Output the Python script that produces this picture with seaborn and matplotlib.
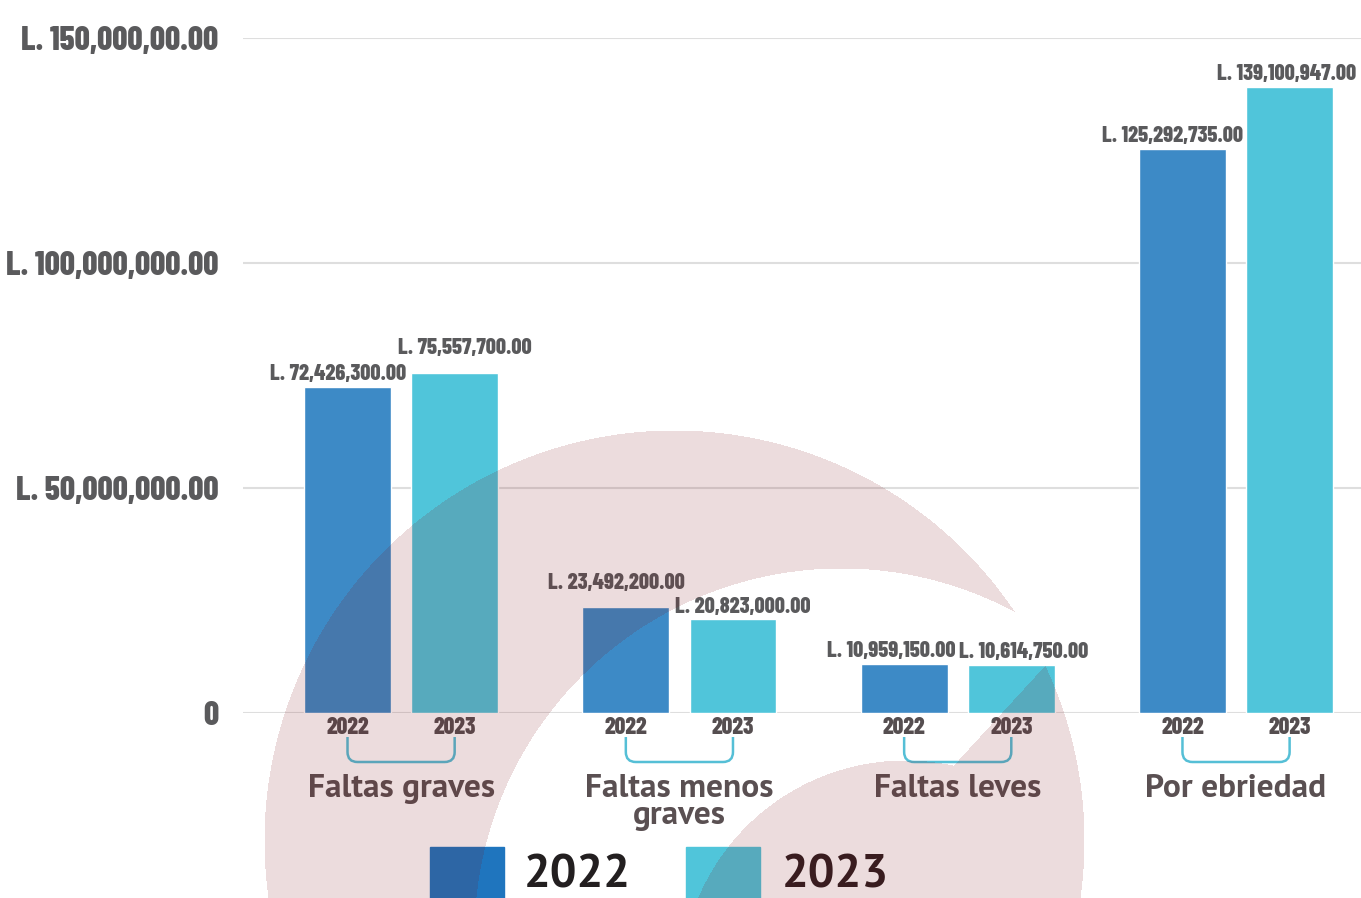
import numpy as np
import pandas as pd
import seaborn as sns
import matplotlib.pyplot as plt
from matplotlib import transforms
from matplotlib.path import Path
from matplotlib.patches import PathPatch, Rectangle

# datos
categorias = ['Faltas graves', 'Faltas menos\ngraves', 'Faltas leves', 'Por ebriedad']
anios = ['2022', '2023']
montos_2022 = [72426300, 23492200, 10959150, 125292735]
montos_2023 = [75557700, 20823000, 10614750, 139100947]
y_ticks = [0, 50000000, 100000000, 150000000]
y_tick_labels = ['0', 'L. 50,000,000.00', 'L. 100,000,000.00', 'L. 150,000,00.00']

COLOR_2022 = '#3D8AC6'
COLOR_2023 = '#50C5DA'
GRIS = '#5A5A5C'

W, H = 1361, 898

ANGOSTA = ['Barlow Condensed', 'Liberation Sans Narrow', 'DejaVu Sans']
NORMAL = ['PT Sans', 'Noto Sans', 'DejaVu Sans']

sns.set_style('white')

df = pd.DataFrame({
    'categoria': categorias * 2,
    'anio': [anios[0]] * 4 + [anios[1]] * 4,
    'monto': montos_2022 + montos_2023,
})

fig = plt.figure(figsize=(W / 100, H / 100), dpi=100)
ax = fig.add_axes([243 / W, 1 - 713 / H, 1 - 243 / W, (713 - 38) / H])

sns.barplot(data=df, x='categoria', y='monto', hue='anio',
            palette=[COLOR_2022, COLOR_2023], width=0.77, gap=0.19,
            saturation=1, legend=False, ax=ax, zorder=2)

ax.set_xlim(-0.568, 3.449)
ax.set_ylim(0, 150000000)
ax.set_xlabel('')
ax.set_ylabel('')
for s in ax.spines.values():
    s.set_visible(False)
ax.grid(axis='y', color='#DEDEDE', linewidth=1.5)
ax.set_axisbelow(True)

ax.set_yticks(y_ticks)
ax.set_yticklabels(y_tick_labels, fontfamily=ANGOSTA, fontweight='heavy',
                   fontsize=24, color=GRIS)
ax.tick_params(axis='y', length=0, pad=18)

# años bajo cada barra
centros, etiquetas = [], []
for anio, cont in zip(anios, ax.containers):
    for barra in cont:
        centros.append(barra.get_x() + barra.get_width() / 2)
        etiquetas.append(anio)
ax.set_xticks(centros)
ax.set_xticklabels(etiquetas, fontfamily=ANGOSTA, fontweight='heavy',
                   fontsize=17, color='#554E50')
ax.tick_params(axis='x', length=0, pad=3)

# etiquetas de valor
desplaz_x = {0: -7, 1: 7}
ajuste_x = {(3, 1): -2, (2, 0): -9, (2, 1): 9}
extra_y = {(1, 0): 8, (0, 1): 9}
for i, (cont, valores) in enumerate(zip(ax.containers, [montos_2022, montos_2023])):
    for j, (barra, v) in enumerate(zip(cont, valores)):
        cx = barra.get_x() + barra.get_width() / 2
        ax.annotate(f'L. {v:,.2f}', xy=(cx, v),
                    xytext=(ajuste_x.get((j, i), desplaz_x[i]), 2 + extra_y.get((j, i), 0)),
                    textcoords='offset points', ha='center', va='bottom',
                    fontfamily=ANGOSTA, fontweight='heavy', fontsize=16,
                    color=GRIS, annotation_clip=False)

# nombres de categoria y corchetes
mezcla = transforms.blended_transform_factory(ax.transData, fig.transFigure)
for k, cat in enumerate(categorias):
    ax.text(k, 1 - 774 / H, cat, transform=mezcla, ha='center', va='top',
            fontfamily=NORMAL, fontweight='bold', fontsize=24,
            color='#5A5052', linespacing=0.85, clip_on=False)

fig.canvas.draw()
r = 10
y_sup, y_inf = H - 737, H - 762
for k in range(len(categorias)):
    b0, b1 = ax.containers[0][k], ax.containers[1][k]
    x0 = ax.transData.transform((b0.get_x() + b0.get_width() / 2, 0))[0]
    x1 = ax.transData.transform((b1.get_x() + b1.get_width() / 2, 0))[0]
    verts = [(x0, y_sup), (x0, y_inf + r), (x0, y_inf), (x0 + r, y_inf),
             (x1 - r, y_inf), (x1, y_inf), (x1, y_inf + r), (x1, y_sup)]
    codes = [Path.MOVETO, Path.LINETO, Path.CURVE3, Path.CURVE3,
             Path.LINETO, Path.CURVE3, Path.CURVE3, Path.LINETO]
    fig.add_artist(PathPatch(Path(verts, codes), transform=None, fill=False,
                             edgecolor='#55BFD6', linewidth=1.8, zorder=0.5))

# leyenda
for x_cuadro, x_texto, color, anio, col_txt in [(430, 524, '#1F75BE', '2022', '#231F20'),
                                                (686, 782, COLOR_2023, '2023', '#2D1E20')]:
    fig.add_artist(Rectangle((x_cuadro / W, 0), 74 / W, 1 - 847 / H,
                             transform=fig.transFigure, color=color, zorder=0.5))
    fig.text(x_texto / W, 1 - 876 / H, anio, ha='left', va='center',
             fontfamily=NORMAL, fontweight='bold', fontsize=34,
             color=col_txt, zorder=0.6)

# marca de agua de fondo
yy, xx = np.mgrid[0:H, 0:W]
exterior = (xx - 674) ** 2 + (yy - 840) ** 2 < 410 ** 2
hueco = (xx - 841) ** 2 + (yy - 935) ** 2 < 367 ** 2
gota = (xx - 905) ** 2 + (yy - 985) ** 2 < 225 ** 2
cola = 95 * (xx - 1045) + 87 * (yy - 665) > 0
mascara = exterior & (~hueco | gota | cola)
img = np.zeros((H, W, 4))
img[..., 0], img[..., 1], img[..., 2] = 128 / 255, 22 / 255, 28 / 255
img[..., 3] = mascara * 0.15
fig.figimage(img, xo=0, yo=0, origin='upper', zorder=1)

fig.savefig('out.png', dpi=100)
